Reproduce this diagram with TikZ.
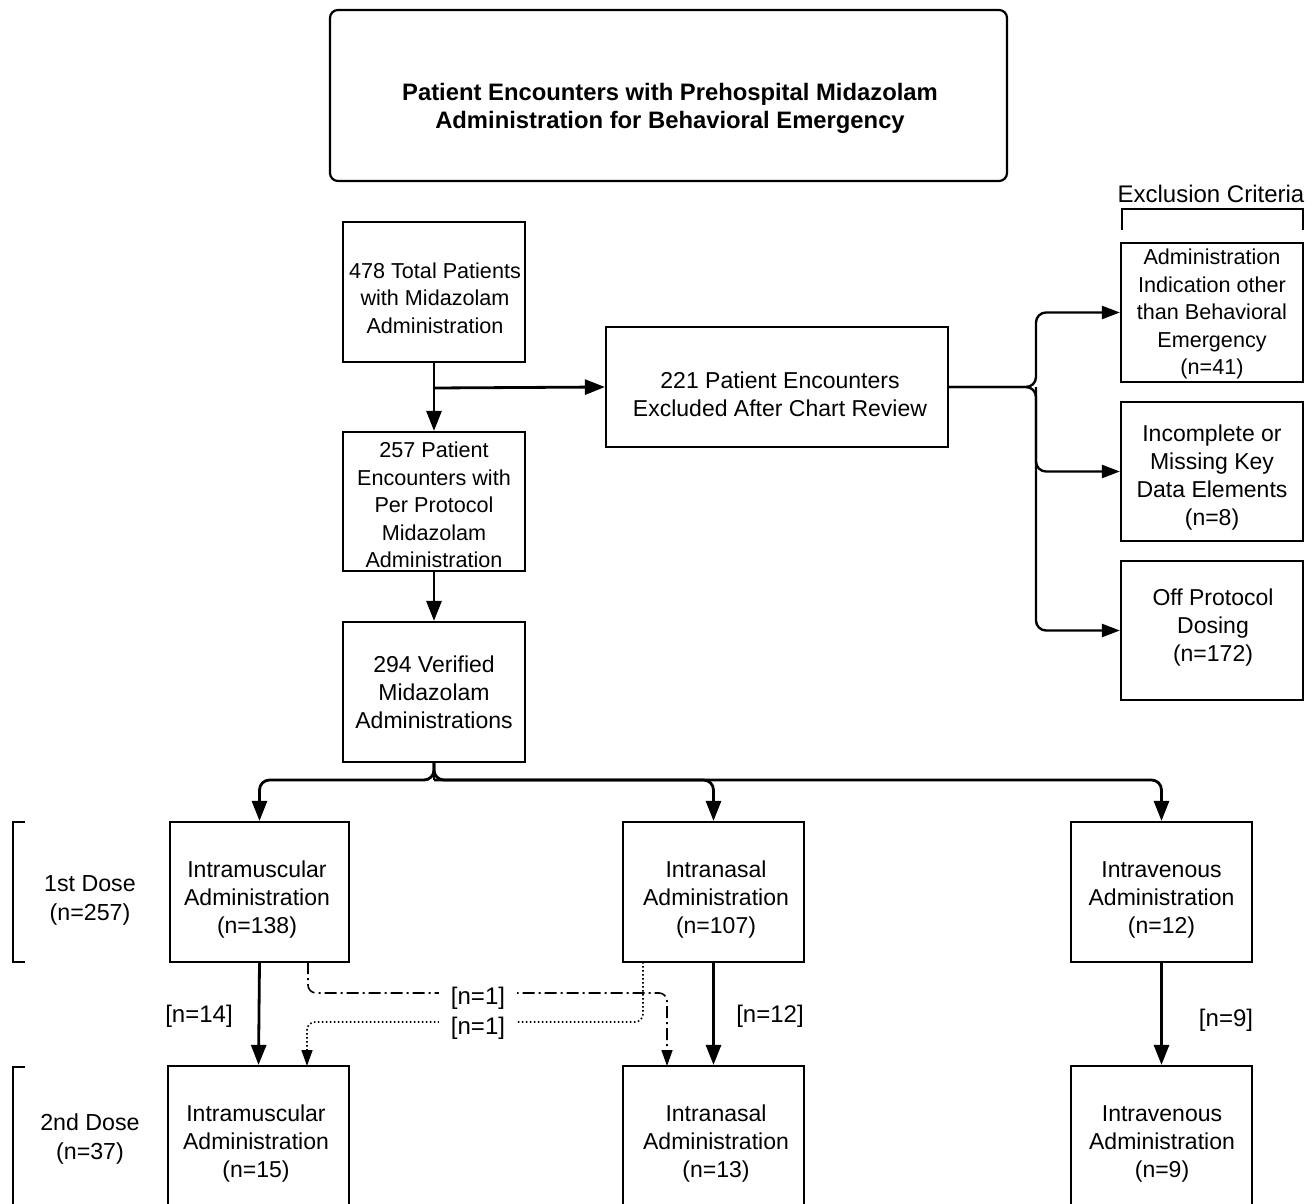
\documentclass[tikz,border=0pt]{standalone}
\usepackage{fontspec}
\setmainfont{Liberation Sans}
\usetikzlibrary{arrows.meta}
\begin{document}
\begin{tikzpicture}[x=0.5pt,y=-0.5pt,
  every node/.style={font=\fontsize{10.8}{13.75}\selectfont},
  box/.style={draw, line width=1.1pt, inner sep=0pt},
  tx/.style={align=center, inner sep=0pt},
  txb/.style={align=center, inner sep=0pt, font=\fontsize{11.5}{14}\selectfont},
  arr/.style={line width=1.4pt, -{Triangle[length=10pt,width=7.5pt]}},
  arrthin/.style={line width=1.2pt, -{Triangle[length=9pt,width=6.5pt]}},
  dd/.style={line width=0.8pt, dash pattern=on 6pt off 2pt on 1pt off 2pt, -{Triangle[length=8pt,width=5.5pt]}},
  dt/.style={line width=0.8pt, dash pattern=on 0.8pt off 1.2pt, -{Triangle[length=8pt,width=5.5pt]}},
  lbl/.style={align=center, inner sep=1pt, font=\fontsize{12}{14.5}\selectfont},
  dose/.style={align=center, inner sep=1pt, font=\fontsize{11.6}{14.5}\selectfont},
  brk/.style={line width=1.2pt}]
\useasboundingbox (0,0) rectangle (1313,1204);

% boxes
\node[box, rounded corners=4pt, minimum width=338.5pt, minimum height=85.5pt] (T) at (668.5,95.5) {};
\node[tx, font=\fontsize{11.9}{14}\selectfont\bfseries] (Tt) at (670,108)
  {Patient Encounters with Prehospital Midazolam\\Administration for Behavioral Emergency};
\node[box, minimum width=91pt, minimum height=70pt] (A) at (434,292) {};
\node[tx] (At) at (435,298) {478 Total Patients\\with Midazolam\\Administration};
\node[box, minimum width=171pt, minimum height=60pt] (B) at (777,387) {};
\node[txb] (Bt) at (780,394) {221 Patient Encounters\\Excluded After Chart Review};
\node[box, minimum width=91pt, minimum height=69.5pt] (C) at (434,501.5) {};
\node[tx] (Ct) at (434,505) {257 Patient\\Encounters with\\Per Protocol\\Midazolam\\Administration};
\node[box, minimum width=91pt, minimum height=70pt] (D) at (434,692) {};
\node[txb] (Dt) at (434,692) {294 Verified\\Midazolam\\Administrations};
\node[box, minimum width=91pt, minimum height=69.5pt] (E1) at (1212,312.5) {};
\node[tx] (E1t) at (1212,314) {Administration\\Indication other\\than Behavioral\\Emergency\\(n=41)};
\node[box, minimum width=91pt, minimum height=69.5pt] (E2) at (1212,471.5) {};
\node[txb] (E2t) at (1212,478) {Incomplete or\\Missing Key\\Data Elements\\(n=8)};
\node[box, minimum width=91pt, minimum height=69.5pt] (E3) at (1212,630.5) {};
\node[txb] (E3t) at (1213,628) {Off Protocol\\Dosing\\(n=172)};
\node[box, minimum width=89.5pt, minimum height=70pt] (F1) at (259.5,892) {};
\node[txb] (F1t) at (257,900) {Intramuscular\\Administration\\(n=138)};
\node[box, minimum width=90.5pt, minimum height=70pt] (F2) at (713.5,892) {};
\node[txb] (F2t) at (716,900) {Intranasal\\Administration\\(n=107)};
\node[box, minimum width=90.5pt, minimum height=70pt] (F3) at (1161.5,892) {};
\node[txb] (F3t) at (1161.5,900) {Intravenous\\Administration\\(n=12)};
\node[box, minimum width=90.5pt, minimum height=70pt] (G1) at (258.5,1136) {};
\node[txb] (G1t) at (256,1144) {Intramuscular\\Administration\\(n=15)};
\node[box, minimum width=90.5pt, minimum height=70pt] (G2) at (713.5,1136) {};
\node[txb] (G2t) at (716,1144) {Intranasal\\Administration\\(n=13)};
\node[box, minimum width=90.5pt, minimum height=70pt] (G3) at (1161.5,1136) {};
\node[txb] (G3t) at (1162,1144) {Intravenous\\Administration\\(n=9)};

% exclusion criteria bracket
\node[lbl] (EC) at (1211,194) {Exclusion Criteria};
\draw[brk] (1122,230) -- (1122,209) -- (1303,209) -- (1303,230);

% dose brackets
\draw[brk] (25,822) -- (13,822) -- (13,962) -- (25,962);
\node[dose] (L1) at (90,900) {1st Dose\\(n=257)};
\draw[brk] (25,1067) -- (13,1067) -- (13,1215);
\node[dose] (L2) at (90,1139) {2nd Dose\\(n=37)};

% main flow
\coordinate (aj) at (434,388);
\draw[arr] (A.south) -- (C.north);
\draw[arr] (aj) -- (B.west);
\draw[arr] (C.south) -- (D.north);

\coordinate (bj) at (1036,387);
\draw[arrthin, rounded corners=5pt] (B.east) -- (bj) |- (E1.west);
\draw[arrthin, rounded corners=5pt] (bj) |- (E2.west);
\draw[arrthin, rounded corners=5pt] (B.east) -- (bj) |- (E3.west);

\coordinate (dj) at (434,780);
\draw[line width=1.4pt] (D.south) -- (dj);
\draw[arr, rounded corners=5pt] (D.south) -- (dj) -| (F1.north);
\draw[arr, rounded corners=5pt] (dj) -| (F2.north);
\draw[arr, rounded corners=5pt] (D.south) -- (dj) -| (F3.north);

\draw[arr] (F1.south) -- (G1.north);
\draw[arr] (F2.south) -- (G2.north);
\draw[arr] (F3.south) -- (G3.north);
\node[lbl] (n14) at (199,1016) {[n=14]};
\node[lbl] (n12) at (770,1016) {[n=12]};
\node[lbl] (n9) at (1226,1020) {[n=9]};

% cross-over
\coordinate (s1) at (308,962);
\coordinate (e1) at (667,1066);
\coordinate (s2) at (643,962);
\coordinate (e2) at (307,1066);
\draw[dd, rounded corners=4pt] (s1) -- (308,993) -- (667,993) -- (e1);
\draw[dt, rounded corners=4pt] (s2) -- (643,1022) -- (307,1022) -- (e2);
\node[lbl, fill=white, inner xsep=6pt, inner ysep=0pt] (x1) at (478,998) {[n=1]};
\node[lbl, fill=white, inner xsep=6pt, inner ysep=0pt] (x2) at (478,1028) {[n=1]};
\end{tikzpicture}
\end{document}
